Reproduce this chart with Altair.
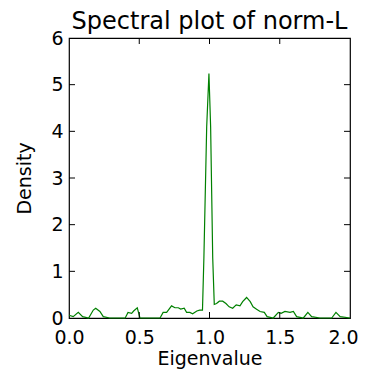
import altair as alt
import pandas as pd

# Eigenvalue density curve
eig_x = [0.0, 0.03, 0.066, 0.097, 0.14, 0.173, 0.19, 0.22, 0.244, 0.29, 0.40, 0.42, 0.446, 0.46,
         0.486, 0.505, 0.553, 0.648, 0.67, 0.695, 0.73, 0.754, 0.778, 0.795, 0.82, 0.837, 0.86,
         0.88, 0.91, 0.93, 0.95, 0.96, 0.98, 0.996, 1.008, 1.023, 1.034, 1.05, 1.07, 1.094, 1.117,
         1.14, 1.165, 1.19, 1.217, 1.236, 1.264, 1.29, 1.31, 1.335, 1.36, 1.39, 1.41, 1.454, 1.49,
         1.51, 1.537, 1.573, 1.597, 1.62, 1.668, 1.70, 1.727, 1.786, 1.87, 1.90, 1.93, 2.0]
density = [0.06, 0.03, 0.12, 0.03, 0.0, 0.17, 0.21, 0.14, 0.03, 0.0, 0.0, 0.12, 0.10, 0.15,
           0.22, 0.0, 0.0, 0.0, 0.12, 0.12, 0.26, 0.22, 0.22, 0.19, 0.21, 0.12, 0.12,
           0.09, 0.15, 0.17, 0.17, 1.28, 4.1, 5.24, 4.1, 1.28, 0.29, 0.31, 0.36, 0.36, 0.31,
           0.24, 0.21, 0.28, 0.26, 0.35, 0.44, 0.35, 0.24, 0.19, 0.14, 0.12, 0.03, 0.0, 0.12,
           0.10, 0.14, 0.12, 0.14, 0.03, 0.0, 0.12, 0.03, 0.0, 0.0, 0.12, 0.03, 0.0]

x_labels = [0, 0.5, 1, 1.5, 2]
y_labels = [0, 1, 2, 3, 4, 5, 6]
x_ticks = [0.5, 1.0, 1.5]
y_ticks = [1, 2, 3, 4, 5]

W, H = 281, 280
FONT = "DejaVu Sans"

curve = pd.DataFrame({"x": eig_x, "y": density})
xt = pd.DataFrame({"x": x_ticks})
yt = pd.DataFrame({"y": y_ticks})

xs = alt.Scale(domain=[0, 2], nice=False)
ys = alt.Scale(domain=[0, 6], nice=False)

line = alt.Chart(curve).mark_line(color="#008000", strokeWidth=1.2).encode(
    x=alt.X("x:Q", scale=xs, title="Eigenvalue",
            axis=alt.Axis(values=x_labels, format=".1f", ticks=False, labelFlush=False,
                          labelOffset={"condition": {"test": "datum.value == 2", "value": -7},
                                       "value": 0},
                          grid=False, domain=False, labelPadding=10, titlePadding=2)),
    y=alt.Y("y:Q", scale=ys, title="Density",
            axis=alt.Axis(values=y_labels, format="d", ticks=False, labelFlush=False,
                          grid=False, domain=False, labelPadding=6, titlePadding=16)),
)

tick_style = dict(color="black", strokeWidth=1)
bx = alt.Chart(xt).mark_rule(**tick_style).encode(
    x=alt.X("x:Q", scale=xs, axis=None), y=alt.value(H), y2=alt.value(H - 6))
tx = alt.Chart(xt).mark_rule(**tick_style).encode(
    x=alt.X("x:Q", scale=xs, axis=None), y=alt.value(0), y2=alt.value(6))
ly = alt.Chart(yt).mark_rule(**tick_style).encode(
    y=alt.Y("y:Q", scale=ys, axis=None), x=alt.value(0), x2=alt.value(6))
ry = alt.Chart(yt).mark_rule(**tick_style).encode(
    y=alt.Y("y:Q", scale=ys, axis=None), x=alt.value(W), x2=alt.value(W - 6))

chart = alt.layer(line, bx, tx, ly, ry).resolve_axis(
    x="independent", y="independent"
).properties(
    width=W, height=H,
    title=alt.TitleParams("Spectral plot of norm-L", fontSize=24, font=FONT,
                          fontWeight="normal", color="black", anchor="middle",
                          frame="group", baseline="alphabetic", offset=0, dy=24),
    autosize=alt.AutoSizeParams(type="none"),
    padding={"left": 61, "top": 30, "right": 8, "bottom": 51},
).configure_view(stroke="black", strokeWidth=1.2).configure_axis(
    labelFont=FONT, titleFont=FONT, labelFontSize=19, titleFontSize=19,
    labelColor="black", titleColor="black", titleFontWeight="normal",
)

chart.save("out.html", embed_options={"renderer": "svg", "actions": False})
